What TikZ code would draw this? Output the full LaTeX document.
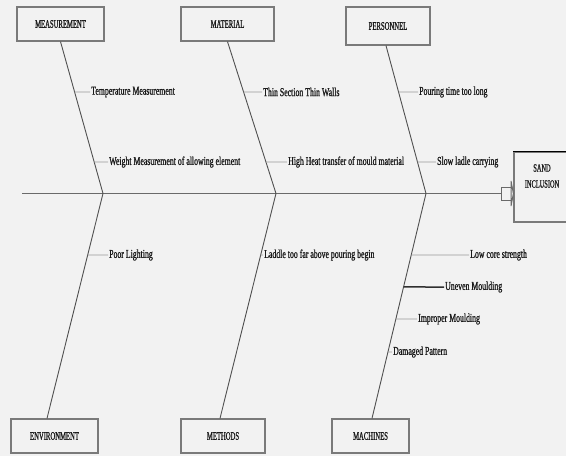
\documentclass[tikz,border=0pt]{standalone}
\usepackage{fontspec}
\setmainfont{Liberation Serif}
\newfontfamily\cnd[FakeStretch=0.65,FakeBold=1]{Liberation Serif}
\newfontfamily\bcnd[FakeStretch=0.58,FakeBold=1]{Liberation Serif}
\usetikzlibrary{calc}
\definecolor{bg}{HTML}{F2F2F2}
\definecolor{boxc}{HTML}{7A7A7A}
\definecolor{bonec}{HTML}{505050}
\definecolor{spinec}{HTML}{6A6A6A}
\definecolor{twigc}{HTML}{9A9A9A}
\definecolor{darktwig}{HTML}{303030}
\definecolor{txt}{HTML}{1A1A1A}
\begin{document}
\begin{tikzpicture}[x=1pt,y=-1pt,
  box/.style={draw=boxc, line width=1.2pt, inner sep=0pt, font=\bcnd\fontsize{11.5}{12}\selectfont, text=txt},
  bone/.style={draw=bonec, line width=0.9pt},
  spine/.style={draw=spinec, line width=1.4pt},
  twig/.style={draw=twigc, line width=0.9pt},
  darkline/.style={draw=darktwig, line width=1.5pt},
  lbl/.style={anchor=west, inner sep=1pt, font=\cnd\fontsize{12}{13}\selectfont, text=txt},
  boxtext/.style={inner sep=0pt, font=\bcnd\fontsize{11}{12}\selectfont, text=txt, align=center},
  arrowst/.style={draw=spinec, line width=1pt, fill=bg}
]
\fill[bg] (0,0) rectangle (566,456);
\useasboundingbox (0,0) rectangle (566,456);

% category boxes
\node[box, minimum width=87, minimum height=34] (meas) at (60.5,24) {MEASUREMENT};
\node[box, minimum width=93, minimum height=34] (mat)  at (227.5,24) {MATERIAL};
\node[box, minimum width=84, minimum height=38] (pers) at (388,26) {PERSONNEL};
\node[box, minimum width=87, minimum height=34] (env)  at (54.5,436) {ENVIRONMENT};
\node[box, minimum width=84, minimum height=34] (meth) at (223,436) {METHODS};
\node[box, minimum width=77, minimum height=34] (mach) at (370.5,436) {MACHINES};

% effect box
\node[box, minimum width=58, minimum height=70] (sand) at (543,187) {};
\draw[black, line width=1.5pt] (sand.north west) -- (sand.north east);
\node[boxtext] (sandtxt) at (542,176) {SAND\\[4pt]INCLUSION};

% spine and block arrow
\coordinate (sL) at (22,193.5);
\coordinate (arrtail) at (501,193.5);
\draw[spine] (sL) -- (arrtail);
\draw[arrowst] (501,187) rectangle (511,200);
\draw[arrowst] (511,181) -- (sand.west |- 0,193.5) -- (511,206) -- cycle;

% junctions
\coordinate (j1) at (103,193.5);
\coordinate (j2) at (276,193.5);
\coordinate (j3) at (426,193.5);
\coordinate (pm) at ($(pers.south)+(-2,0)$);
\coordinate (em) at ($(env.north)+(-7.5,0)$);
\coordinate (mm) at ($(meth.north)+(-3,0)$);
\coordinate (km) at ($(mach.north)+(1.5,0)$);

% bones
\draw[bone] (meas.south) -- (j1) -- (em);
\draw[bone] (mat.south) -- (j2) -- (mm);
\draw[bone] (pm) -- (j3) -- (km);

% labels
\node[lbl] (t1) at (90,92) {Temperature Measurement};
\node[lbl] (t2) at (108,162) {Weight Measurement of allowing element};
\node[lbl] (t3) at (262,92) {Thin Section Thin Walls};
\node[lbl] (t4) at (287,162) {High Heat transfer of mould material};
\node[lbl] (t5) at (418,92) {Pouring time too long};
\node[lbl] (t6) at (436,162) {Slow ladle carrying};
\node[lbl] (b1) at (108,255) {Poor Lighting};
\node[lbl] (b2) at (263,255) {Laddle too far above pouring begin};
\node[lbl] (b3) at (469,255) {Low core strength};
\node[lbl] (b4) at (444,287) {Uneven Moulding};
\node[lbl] (b5) at (417,319) {Improper Moulding};
\node[lbl] (b6) at (392,352) {Damaged Pattern};

% twigs
\draw[twig] (intersection of meas.south--j1 and t1.west--t1.east) -- (t1.west);
\draw[twig] (intersection of meas.south--j1 and t2.west--t2.east) -- (t2.west);
\draw[twig] (intersection of mat.south--j2 and t3.west--t3.east) -- (t3.west);
\draw[twig] (intersection of mat.south--j2 and t4.west--t4.east) -- (t4.west);
\draw[twig] (intersection of pm--j3 and t5.west--t5.east) -- (t5.west);
\draw[twig] (intersection of pm--j3 and t6.west--t6.east) -- (t6.west);
\draw[twig] (intersection of j1--em and b1.west--b1.east) -- (b1.west);
\draw[twig] (intersection of j2--mm and b2.west--b2.east) -- (b2.west);
\draw[twig] (intersection of j3--km and b3.west--b3.east) -- (b3.west);
\draw[darkline] (intersection of j3--km and b4.west--b4.east) -- (b4.west);
\draw[twig] (intersection of j3--km and b5.west--b5.east) -- (b5.west);
\draw[twig] (intersection of j3--km and b6.west--b6.east) -- (b6.west);
\end{tikzpicture}
\end{document}
